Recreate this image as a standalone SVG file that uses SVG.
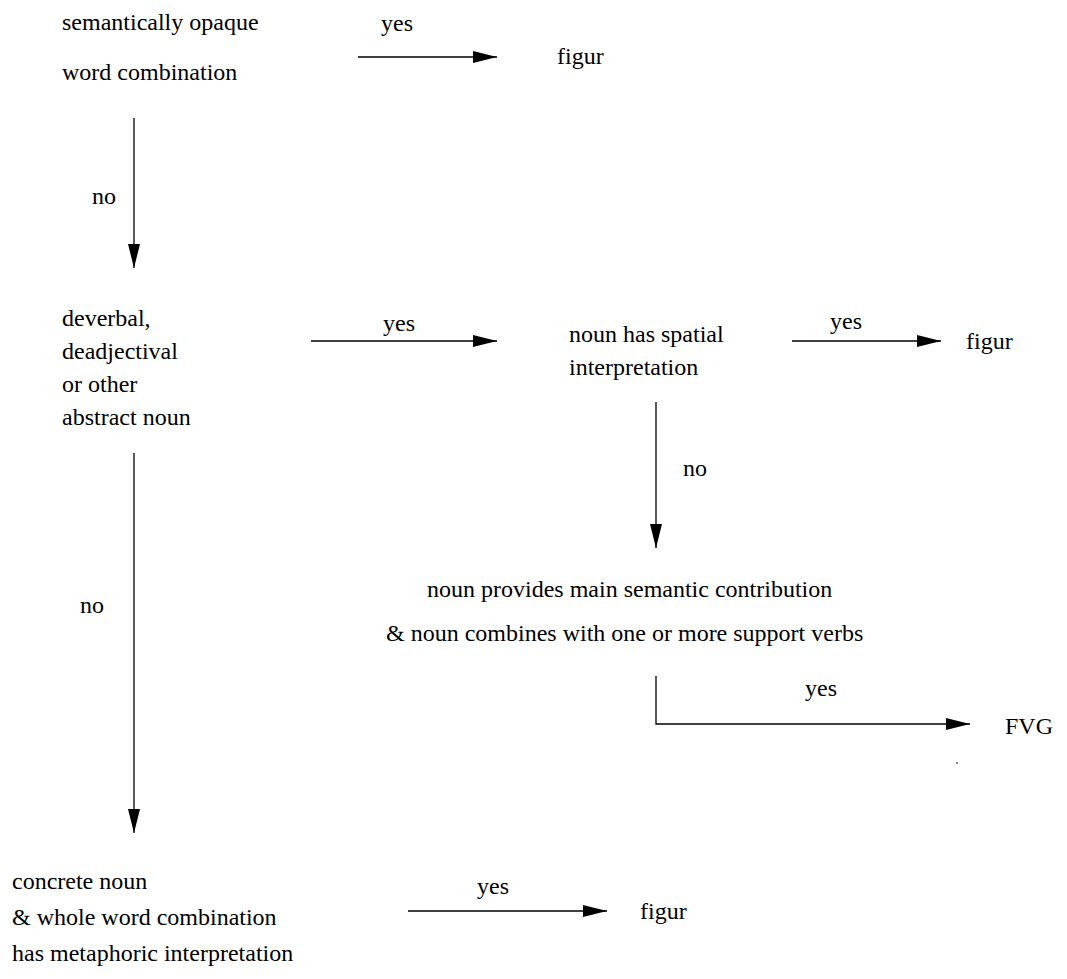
<svg xmlns="http://www.w3.org/2000/svg" width="1067" height="979" viewBox="0 0 1067 979" font-family="'Liberation Serif', serif" font-size="24">
<defs>
<style>
text{font-family:'Liberation Serif',serif;font-size:24px;fill:#000}
.c{stroke:#000;stroke-width:1.3;fill:none}
</style>
<marker id="ah" markerUnits="userSpaceOnUse" markerWidth="26" markerHeight="14" refX="24" refY="7" orient="auto">
<path d="M0,1 L24,7 L0,13 Z" fill="#000"/>
</marker>
</defs>
<rect width="1067" height="979" fill="#fff"/>
<g id="connectors">
<line class="c" x1="358" y1="57" x2="497" y2="57" marker-end="url(#ah)"/>
<line class="c" x1="134" y1="118" x2="134" y2="268" marker-end="url(#ah)"/>
<line class="c" x1="311" y1="341" x2="497" y2="341" marker-end="url(#ah)"/>
<line class="c" x1="792" y1="341" x2="941" y2="341" marker-end="url(#ah)"/>
<line class="c" x1="656" y1="402" x2="656" y2="548" marker-end="url(#ah)"/>
<polyline class="c" points="656,676 656,724 970,724" marker-end="url(#ah)"/>
<line class="c" x1="134" y1="453" x2="134" y2="833" marker-end="url(#ah)"/>
<line class="c" x1="408" y1="911" x2="607" y2="911" marker-end="url(#ah)"/>
<text x="381" y="31">yes</text>
<text x="92" y="204">no</text>
<text x="383" y="331">yes</text>
<text x="830" y="329">yes</text>
<text x="683" y="476">no</text>
<text x="805" y="696">yes</text>
<text x="80" y="613">no</text>
<text x="477" y="894">yes</text>
</g>
<g id="n1"><text x="62" y="30">semantically opaque</text><text x="62" y="80">word combination</text></g>
<g id="n2"><text x="557" y="64">figur</text></g>
<g id="n3"><text x="62" y="326">deverbal,</text><text x="62" y="359">deadjectival</text><text x="62" y="392">or other</text><text x="62" y="425">abstract noun</text></g>
<g id="n4"><text x="569" y="342">noun has spatial</text><text x="569" y="375">interpretation</text></g>
<g id="n5"><text x="966" y="349">figur</text></g>
<g id="n6"><text x="427" y="597">noun provides main semantic contribution</text><text x="386" y="641">&amp; noun combines with one or more support verbs</text></g>
<g id="n7"><text x="1005" y="734">FVG</text></g>
<g id="n8"><text x="12" y="889">concrete noun</text><text x="12" y="925">&amp; whole word combination</text><text x="12" y="961">has metaphoric interpretation</text></g>
<g id="n9"><text x="640" y="919">figur</text></g>
<circle cx="957" cy="763" r="0.8" fill="#000"/>
</svg>
